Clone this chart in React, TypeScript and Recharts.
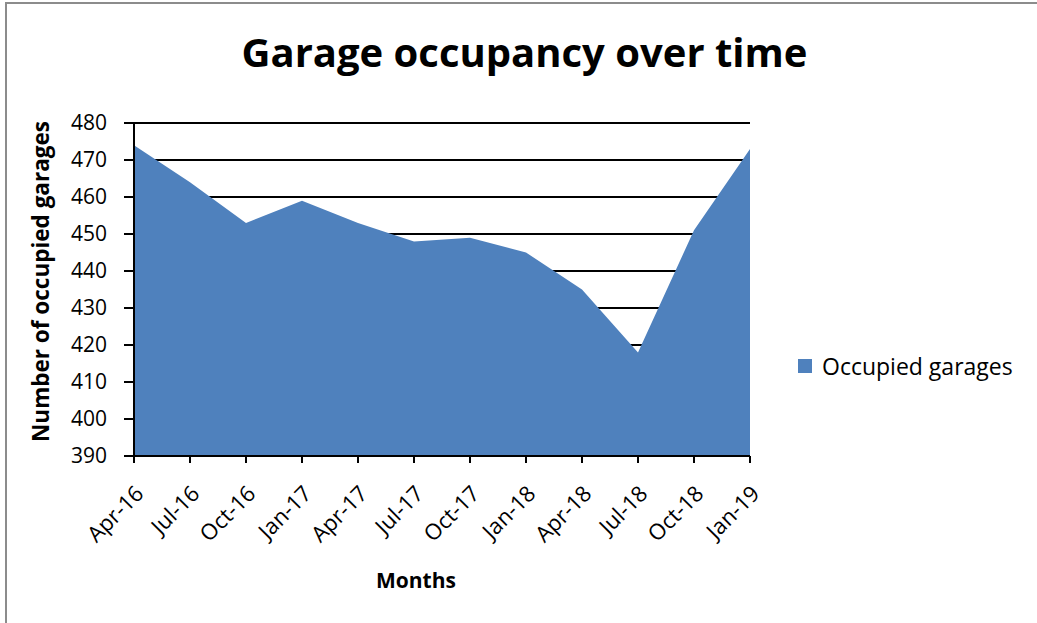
import { Area, AreaChart, CartesianGrid, XAxis, YAxis } from "recharts";

const months = [
  "Apr-16", "Jul-16", "Oct-16", "Jan-17", "Apr-17", "Jul-17",
  "Oct-17", "Jan-18", "Apr-18", "Jul-18", "Oct-18", "Jan-19",
];
const occupied = [474, 464, 453, 459, 453, 448, 449, 445, 435, 418, 451, 473];
const yTicks = [390, 400, 410, 420, 430, 440, 450, 460, 470, 480];

const data = months.map((m, i) => ({ month: m, occupied: occupied[i] }));

const FONT = "'Open Sans', 'Noto Sans', sans-serif";
const BLUE = "#4F81BD";

// rotated month labels, like the spreadsheet export
const MonthTick = ({ x, y, payload }: any) => {
  const px = x + 11;
  const py = y + 30;
  return (
    <text
      x={px}
      y={py}
      transform={`rotate(-45, ${px}, ${py})`}
      textAnchor="end"
      fontSize={22}
      fontFamily={FONT}
      fill="#000"
    >
      {payload.value}
    </text>
  );
};

const XLabel = ({ viewBox }: any) => {
  const cx = viewBox.x + viewBox.width / 2 - 26;
  return (
    <text
      x={cx}
      y={viewBox.y + viewBox.height + 72}
      textAnchor="middle"
      fontSize={21}
      fontWeight="bold"
      fontFamily={FONT}
      fill="#000"
    >
      Months
    </text>
  );
};

const YLabel = ({ viewBox }: any) => {
  const cx = viewBox.x - 34;
  const cy = viewBox.y + viewBox.height / 2 - 8;
  return (
    <text
      x={cx}
      y={cy}
      transform={`rotate(-90, ${cx}, ${cy})`}
      textAnchor="middle"
      dominantBaseline="central"
      fontSize={22.5}
      fontWeight="bold"
      fontFamily={FONT}
      fill="#000"
    >
      Number of occupied garages
    </text>
  );
};

export default function App() {
  return (
    <div style={{ position: "absolute", left: 0, top: 0, width: 1037, height: 623, overflow: "hidden", background: "#fff" }}>
      <div
        style={{
          position: "absolute",
          left: 5,
          top: 2,
          width: 1040,
          height: 640,
          border: "2px solid #8c8c8c",
        }}
      />
      <div
        style={{
          position: "absolute",
          left: 0,
          width: 1037,
          top: 25,
          textAlign: "center",
          fontFamily: FONT,
          fontWeight: "bold",
          fontSize: 40,
          lineHeight: "54px",
          paddingLeft: 6,
        }}
      >
        Garage occupancy over time
      </div>
      <div style={{ position: "absolute", left: 0, top: 0 }}>
        <AreaChart
          width={1037}
          height={623}
          data={data}
          margin={{ top: 123, right: 287, left: 74, bottom: 107 }}
        >
          <CartesianGrid horizontal vertical={false} stroke="#000" strokeWidth={2} />
          <XAxis
            dataKey="month"
            height={60}
            tick={<MonthTick />}
            tickSize={7}
            stroke="#000"
            strokeWidth={2}
            interval={0}
            label={<XLabel />}
          />
          <YAxis
            width={60}
            domain={[390, 480]}
            ticks={yTicks}
            tickSize={10}
            stroke="#000"
            strokeWidth={2}
            tick={{ fontSize: 21, fontFamily: FONT, fill: "#000" }}
            tickMargin={17}
            label={<YLabel />}
          />
          <Area
            type="linear"
            dataKey="occupied"
            name="Occupied garages"
            stroke="none"
            fill={BLUE}
            fillOpacity={1}
            baseValue={390}
            isAnimationActive={false}
          />
        </AreaChart>
      </div>
      <div
        style={{
          position: "absolute",
          left: 798,
          top: 351,
          display: "flex",
          alignItems: "center",
          fontFamily: FONT,
          fontSize: 23,
          lineHeight: "30px",
        }}
      >
        <span style={{ width: 14, height: 14, background: BLUE, marginRight: 10, display: "inline-block" }} />
        <span>Occupied garages</span>
      </div>
    </div>
  );
}
